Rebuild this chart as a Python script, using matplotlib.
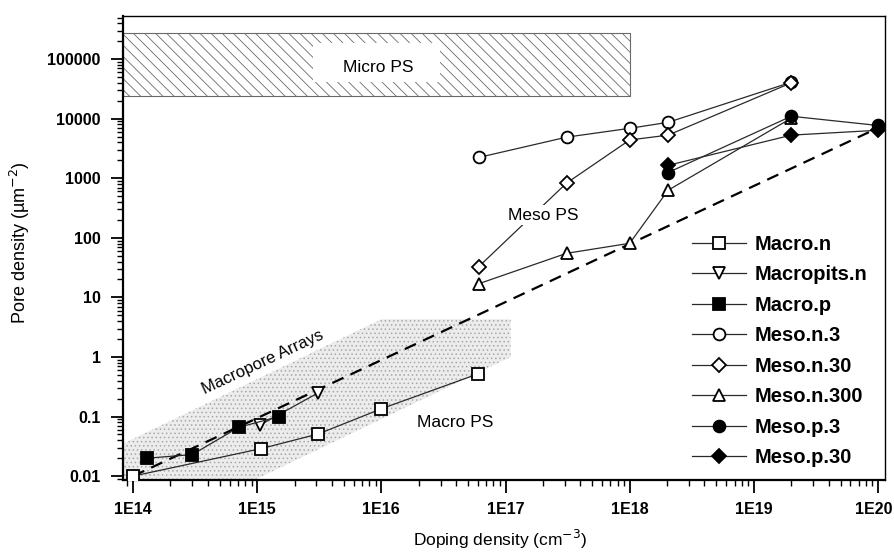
import matplotlib
matplotlib.use('Agg')
from matplotlib import pyplot as plt
from matplotlib.ticker import FixedLocator, LogLocator, NullFormatter
from matplotlib.transforms import ScaledTranslation

plt.rcParams['font.family'] = ['Liberation Sans', 'DejaVu Sans']
plt.rcParams['hatch.linewidth'] = 0.6

# data
MACRO_N_X = [1e14, 1.08e15, 3.1e15, 1e16, 6e16]
MACRO_N_Y = [0.01, 0.029, 0.051, 0.135, 0.52]
MACROPITS_N_X = [1.05e15, 3.1e15]
MACROPITS_N_Y = [0.072, 0.25]
MACRO_P_X = [1.3e14, 3.0e14, 7.1e14, 1.5e15]
MACRO_P_Y = [0.020, 0.023, 0.066, 0.10]
MESO_N3_X = [6.1e16, 3.1e17, 1e18, 2.04e18, 2e19]
MESO_N3_Y = [2240, 4900, 6900, 8700, 41000]
MESO_N30_X = [6.1e16, 3.1e17, 1e18, 2.04e18, 2e19]
MESO_N30_Y = [33, 830, 4400, 5300, 40000]
MESO_N300_X = [6.1e16, 3.1e17, 1e18, 2.04e18, 2e19]
MESO_N300_Y = [17, 55, 81, 630, 10200]
MESO_P3_X = [2.04e18, 2e19, 1e20]
MESO_P3_Y = [1250, 11000, 7700]
MESO_P30_X = [2.04e18, 2e19, 1e20]
MESO_P30_Y = [1650, 5300, 6400]

TREND_X = [1e14, 1e20]
TREND_Y = [0.01, 7000]

MICRO_X = [8.3e13, 1e18]
MICRO_Y = [2.4e4, 2.7e5]
ARRAYS_X = [8.3e13, 8.3e13, 1e16, 1.1e17, 1.1e17, 9.5e14]
ARRAYS_Y = [0.0086, 0.035, 4.3, 4.3, 1.0, 0.0086]

YTICKS = [0.01, 0.1, 1, 10, 100, 1000, 10000, 100000]
YTICKLABELS = ['0.01', '0.1', '1', '10', '100', '1000', '10000', '100000']
XTICKS = [1e14, 1e15, 1e16, 1e17, 1e18, 1e19, 1e20]
XTICKLABELS = ['1E14', '1E15', '1E16', '1E17', '1E18', '1E19', '1E20']

SERIES = [
    ('Macro.n', MACRO_N_X, MACRO_N_Y, 's', 'white'),
    ('Macropits.n', MACROPITS_N_X, MACROPITS_N_Y, 'v', 'white'),
    ('Macro.p', MACRO_P_X, MACRO_P_Y, 's', 'black'),
    ('Meso.n.3', MESO_N3_X, MESO_N3_Y, 'o', 'white'),
    ('Meso.n.30', MESO_N30_X, MESO_N30_Y, 'D', 'white'),
    ('Meso.n.300', MESO_N300_X, MESO_N300_Y, '^', 'white'),
    ('Meso.p.3', MESO_P3_X, MESO_P3_Y, 'o', 'black'),
    ('Meso.p.30', MESO_P30_X, MESO_P30_Y, 'D', 'black'),
]

fig = plt.figure(figsize=(8.94, 5.52), dpi=100)
ax = fig.add_axes([0.1376, 0.1304, 0.8524, 0.8406])
ax.set_xscale('log')
ax.set_yscale('log')
ax.set_xlim(8.3e13, 1.14e20)
ax.set_ylim(0.0086, 5.3e5)

# shaded regions
ax.fill_between(MICRO_X, MICRO_Y[0], MICRO_Y[1], facecolor='white',
                edgecolor='#6a6a6a', hatch='\\\\\\', linewidth=0.8, zorder=1)
ax.fill_between([2.8e15, 2.95e16], 4.1e4, 1.85e5, facecolor='white',
                edgecolor='none', zorder=1.5)
ax.fill(ARRAYS_X, ARRAYS_Y, facecolor='#ececec', edgecolor='#a8a8a8',
        hatch='....', linewidth=0, zorder=0)

# series
handles = []
for label, xs, ys, marker, face in SERIES:
    ms = 7.5 if marker == 'D' else 8.5
    h, = ax.plot(xs, ys, color='#2a2a2a', lw=0.9, marker=marker, ms=ms,
                 mfc=face, mec='black', mew=1.3, label=label, zorder=4)
    handles.append(h)

ax.plot(TREND_X, TREND_Y, color='black', lw=1.6, dashes=(5.5, 3.5), zorder=3)

# labels in the plot
ax.text(9.4e15, 7.3e4, 'Micro PS', fontsize=12.5, ha='center', va='center',
        zorder=2)
ax.text(2.0e17, 240, 'Meso PS', fontsize=12.5, ha='center', va='center',
        bbox=dict(facecolor='white', edgecolor='none', pad=2), zorder=5)
ax.text(3.9e16, 0.078, 'Macro PS', fontsize=12.5, ha='center', va='center',
        bbox=dict(facecolor='white', edgecolor='none', pad=3), zorder=1)
ax.text(1.1e15, 0.8, 'Macropore Arrays', fontsize=12, ha='center',
        va='center', rotation=25, zorder=5)

# axes styling
ax.xaxis.set_major_locator(FixedLocator(XTICKS))
ax.set_xticklabels(XTICKLABELS, fontweight='bold')
ax.yaxis.set_major_locator(FixedLocator(YTICKS))
ax.set_yticklabels(YTICKLABELS, fontweight='bold')
ax.xaxis.set_minor_locator(LogLocator(base=10, subs=range(2, 10), numticks=20))
ax.yaxis.set_minor_locator(LogLocator(base=10, subs=range(2, 10), numticks=20))
ax.xaxis.set_minor_formatter(NullFormatter())
ax.yaxis.set_minor_formatter(NullFormatter())
ax.tick_params(which='major', length=9, width=1.3, labelsize=11.5, pad=7)
ax.tick_params(which='minor', length=4.5, width=1.0)
ax.tick_params(top=False, right=False, which='both')
for side in ['left', 'bottom']:
    ax.spines[side].set_linewidth(1.6)
for side in ['top', 'right']:
    ax.spines[side].set_linewidth(1.0)

# last x label sits against the edge, nudge it in a bit
last = ax.get_xticklabels()[-1]
last.set_transform(last.get_transform()
                   + ScaledTranslation(-4 / 100, 0, fig.dpi_scale_trans))

ax.set_xlabel('Doping density (cm$^{-3}$)', fontsize=12.5)
ax.set_ylabel('Pore density (\u00b5m$^{-2}$)', fontsize=13)
ax.xaxis.set_label_coords(0.495, -0.103)
ax.yaxis.set_label_coords(-0.119, 0.512)

ax.legend(handles=handles, loc='upper left', bbox_to_anchor=(0.733, 0.55),
          frameon=False, prop={'size': 14.5, 'weight': 'bold'},
          handlelength=2.7, handletextpad=0.45, labelspacing=0.57,
          borderpad=0)

fig.savefig('out.png', dpi=100)
